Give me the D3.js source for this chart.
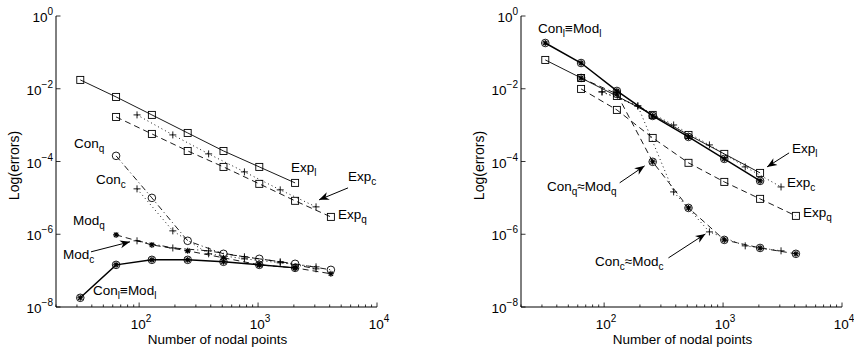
<!DOCTYPE html>
<html>
<head>
<meta charset="utf-8">
<script src="https://cdn.jsdelivr.net/npm/d3@7"></script>
<style>
  body { margin: 0; background: #fff; }
  svg text { font-family: "Liberation Sans", Arial, sans-serif; fill: #000; }
</style>
</head>
<body>
<svg id="chart" width="854" height="349"></svg>
<script>
// x values (number of nodal points)
const nodesA = [32, 64, 128, 256, 512, 1024, 2048];
const nodesB = [64, 128, 256, 512, 1024, 2048, 4096];
const nodesC = [96, 192, 384, 768, 1536, 3072];

// left panel errors
const leftExpL = [1.75e-2, 5.96e-3, 1.91e-3, 6.1e-4, 1.95e-4, 7.1e-5, 2.58e-5];
const leftExpQ = [1.68e-3, 5.73e-4, 1.95e-4, 7.1e-5, 2.43e-5, 8.3e-6, 3.0e-6];
const leftExpC = [1.91e-3, 5.38e-4, 1.62e-4, 5.18e-5, 1.66e-5, 5.66e-6];
const leftConL = [1.79e-8, 1.44e-7, 1.98e-7, 1.98e-7, 1.75e-7, 1.44e-7, 1.19e-7];
const leftConQ = [1.43e-4, 1.0e-5, 6.6e-7, 2.9e-7, 2.11e-7, 1.54e-7, 1.05e-7];
const leftConC = [1.77e-5, 1.24e-6, 2.9e-7, 2.11e-7, 1.64e-7, 1.27e-7];
const leftModQ = [9.6e-7, 5.1e-7, 3.5e-7, 2.25e-7, 1.44e-7, 1.19e-7, 8.2e-8];
const leftModC = [6.6e-7, 4.2e-7, 3.5e-7, 2.4e-7, 1.75e-7, 1.12e-7];

// right panel errors
const rightExpL = [6.2e-2, 1.98e-2, 6.3e-3, 1.91e-3, 5.38e-4, 1.62e-4, 4.86e-5];
const rightConL = [1.81e-1, 5.1e-2, 8.7e-3, 1.79e-3, 4.74e-4, 1.18e-4, 2.93e-5];
const rightExpQ = [9.9e-3, 2.62e-3, 4.45e-4, 9.2e-5, 2.75e-5, 9.4e-6, 3.2e-6];
const rightExpC = [8.2e-3, 3.37e-3, 1.01e-3, 2.86e-4, 7.1e-5, 2.0e-5];
const rightConQ = [1.98e-2, 7.2e-3, 9.8e-5, 5.3e-6, 7.0e-7, 4.2e-7, 2.9e-7];
const rightConC = [8.2e-3, 3.37e-3, 1.46e-5, 1.16e-6, 4.8e-7, 3.5e-7];

// axis ticks
const xMajor = [100, 1000, 10000];
const xTickLabels = ["2", "3", "4"];
const yMajor = [1, 1e-2, 1e-4, 1e-6, 1e-8];
const yTickLabels = ["0", "\u22122", "\u22124", "\u22126", "\u22128"];

const SOLID = null, DASH = "6,4", DOT = "1,3", DASHDOT = "6,3,1,3";

const panels = [
  {
    dx: 0,
    series: [
      {x: nodesA, y: leftExpL, dash: SOLID, mk: "square", w: 0.9},
      {x: nodesB, y: leftExpQ, dash: DASH, mk: "square", w: 0.9},
      {x: nodesC, y: leftExpC, dash: DOT, mk: "plus", w: 0.9},
      {x: nodesB, y: leftConQ, dash: DASHDOT, mk: "circle", w: 0.9},
      {x: nodesC, y: leftConC, dash: DOT, mk: "plus", w: 0.9},
      {x: nodesB, y: leftModQ, dash: DASH, mk: "star", w: 0.9},
      {x: nodesC, y: leftModC, dash: DASHDOT, mk: "plus", w: 0.9},
      {x: nodesA, y: leftConL, dash: SOLID, mk: "circstar", w: 1.5},
    ],
    labels: [
      {x: 291, y: 172, t: "Exp", s: "l"},
      {x: 348, y: 181, t: "Exp", s: "c"},
      {x: 338, y: 219, t: "Exp", s: "q"},
      {x: 74, y: 148, t: "Con", s: "q"},
      {x: 96, y: 184, t: "Con", s: "c"},
      {x: 73, y: 225, t: "Mod", s: "q"},
      {x: 63, y: 259, t: "Mod", s: "c"},
      {x: 93, y: 295, t: "Con", s: "l", t2: "\u2261Mod", s2: "l"},
    ],
    // arrow tip at a data point plus pixel offset, tail as pixel offset from tip
    arrows: [
      {px: 96, py: leftModC[0], ox: -7, oy: 1, tx: -39, ty: 10},
      {px: 3072, py: leftExpC[5], ox: 3, oy: -7, tx: 29, ty: -12},
    ],
  },
  {
    dx: 465,
    series: [
      {x: nodesA, y: rightExpL, dash: SOLID, mk: "square", w: 0.9},
      {x: nodesB, y: rightExpQ, dash: DASH, mk: "square", w: 0.9},
      {x: nodesC, y: rightExpC, dash: DOT, mk: "plus", w: 0.9},
      {x: nodesB, y: rightConQ, dash: DASH, mk: "circstar", w: 0.9},
      {x: nodesC, y: rightConC, dash: DOT, mk: "plus", w: 0.9},
      {x: nodesA, y: rightConL, dash: SOLID, mk: "circstar", w: 1.5},
    ],
    labels: [
      {x: 73, y: 33, t: "Con", s: "l", t2: "\u2261Mod", s2: "l"},
      {x: 327, y: 153, t: "Exp", s: "l"},
      {x: 322, y: 187, t: "Exp", s: "c"},
      {x: 338, y: 217, t: "Exp", s: "q"},
      {x: 82, y: 191, t: "Con", s: "q", t2: "\u2248Mod", s2: "q"},
      {x: 130, y: 266, t: "Con", s: "c", t2: "\u2248Mod", s2: "c"},
    ],
    arrows: [
      {px: 2048, py: rightExpL[6], ox: 7, oy: -6, tx: 22, ty: -14},
      {px: 256, py: rightConQ[2], ox: -8, oy: 4, tx: -25, ty: 17},
      {px: 768, py: rightConC[3], ox: -4, oy: 2, tx: -37, ty: 24},
    ],
  },
];

const svg = d3.select("#chart");
const defs = svg.append("defs");
defs.append("marker")
  .attr("id", "ah").attr("viewBox", "0 0 10 10")
  .attr("refX", 10).attr("refY", 5)
  .attr("markerWidth", 10).attr("markerHeight", 10)
  .attr("markerUnits", "userSpaceOnUse")
  .attr("orient", "auto")
  .append("path").attr("d", "M0,1 L10,5 L0,9 L3,5 Z").attr("fill", "#000");

const m = {left: 56, right: 377, top: 16, bottom: 307};

function drawMarker(g, kind, cx, cy) {
  const s = 3.5;
  if (kind === "square") {
    g.append("rect").attr("x", cx - s).attr("y", cy - s).attr("width", 2 * s).attr("height", 2 * s)
      .attr("fill", "none").attr("stroke", "#000").attr("stroke-width", 0.9);
  }
  if (kind === "circle" || kind === "circstar") {
    g.append("circle").attr("cx", cx).attr("cy", cy).attr("r", 3.8)
      .attr("fill", "none").attr("stroke", "#000").attr("stroke-width", 0.9);
  }
  if (kind === "plus") {
    g.append("path").attr("d", `M${cx - s},${cy}H${cx + s}M${cx},${cy - s}V${cy + s}`)
      .attr("stroke", "#000").attr("stroke-width", 0.9);
  }
  if (kind === "star" || kind === "circstar") {
    const r = 3, d = r * 0.72;
    g.append("path")
      .attr("d", `M${cx - r},${cy}H${cx + r}M${cx},${cy - r}V${cy + r}M${cx - d},${cy - d}L${cx + d},${cy + d}M${cx - d},${cy + d}L${cx + d},${cy - d}`)
      .attr("stroke", "#000").attr("stroke-width", 1.1);
  }
}

function subText(g, lab, size) {
  const t = g.append("text").attr("x", lab.x).attr("y", lab.y).attr("font-size", size);
  t.append("tspan").text(lab.t);
  t.append("tspan").attr("font-size", 10).attr("dy", 4).text(lab.s);
  if (lab.t2) {
    t.append("tspan").attr("dy", -4).text(lab.t2);
    t.append("tspan").attr("font-size", 10).attr("dy", 4).text(lab.s2);
  }
}

for (const p of panels) {
  const g = svg.append("g").attr("transform", `translate(${p.dx},0)`);
  const x = d3.scaleLog().domain([20, 10000]).range([m.left, m.right]);
  const y = d3.scaleLog().domain([1e-8, 1]).range([m.bottom, m.top]);

  // axes lines
  g.append("path").attr("d", `M${m.left},${m.top}V${m.bottom}H${m.right}`)
    .attr("fill", "none").attr("stroke", "#000").attr("stroke-width", 1);

  // x ticks (inward), minor included
  const minor = [];
  for (let dec = 10; dec < 10000; dec *= 10)
    for (let k = 2; k <= 9; k++) if (dec * k >= 20) minor.push(dec * k);
  g.selectAll(".xminor").data(minor).join("line")
    .attr("x1", d => x(d)).attr("x2", d => x(d))
    .attr("y1", m.bottom).attr("y2", m.bottom - 2.5)
    .attr("stroke", "#000").attr("stroke-width", 0.8);
  g.selectAll(".xmajor").data(xMajor).join("line")
    .attr("x1", d => x(d)).attr("x2", d => x(d))
    .attr("y1", m.bottom).attr("y2", m.bottom - 4.5)
    .attr("stroke", "#000").attr("stroke-width", 0.8);
  xMajor.forEach((v, i) => {
    const t = g.append("text").attr("x", x(v) + 2).attr("y", 329)
      .attr("text-anchor", "middle").attr("font-size", 13.5);
    t.append("tspan").text("10");
    t.append("tspan").attr("font-size", 10).attr("dy", -7).text(xTickLabels[i]);
  });

  // y ticks
  g.selectAll(".ymajor").data(yMajor).join("line")
    .attr("x1", m.left).attr("x2", m.left + 4.5)
    .attr("y1", d => y(d)).attr("y2", d => y(d))
    .attr("stroke", "#000").attr("stroke-width", 0.8);
  yMajor.forEach((v, i) => {
    const t = g.append("text").attr("x", 53).attr("y", y(v) + 6)
      .attr("text-anchor", "end").attr("font-size", 13.5);
    t.append("tspan").text("10");
    t.append("tspan").attr("font-size", 10).attr("dy", -7).text(yTickLabels[i]);
  });

  // axis titles
  g.append("text").attr("x", (m.left + m.right) / 2 + 1).attr("y", 344)
    .attr("text-anchor", "middle").attr("font-size", 13.5).text("Number of nodal points");
  g.append("text").attr("transform", `translate(19,${(m.top + m.bottom) / 2 + 4}) rotate(-90)`)
    .attr("text-anchor", "middle").attr("font-size", 14).text("Log(errors)");

  // series
  const line = d3.line().x(d => x(d[0])).y(d => y(d[1]));
  for (const s of p.series) {
    const pts = s.x.map((v, i) => [v, s.y[i]]);
    g.append("path").datum(pts).attr("d", line)
      .attr("fill", "none").attr("stroke", "#000").attr("stroke-width", s.w)
      .attr("stroke-dasharray", s.dash);
    const mg = g.append("g");
    pts.forEach(d => drawMarker(mg, s.mk, x(d[0]), y(d[1])));
  }

  // labels
  for (const lab of p.labels) subText(g, lab, 13.5);

  // arrows
  for (const a of p.arrows) {
    const tipX = x(a.px) + a.ox, tipY = y(a.py) + a.oy;
    g.append("line").attr("x1", tipX + a.tx).attr("y1", tipY + a.ty)
      .attr("x2", tipX).attr("y2", tipY)
      .attr("stroke", "#000").attr("stroke-width", 1)
      .attr("marker-end", "url(#ah)");
  }
}
</script>
</body>
</html>
